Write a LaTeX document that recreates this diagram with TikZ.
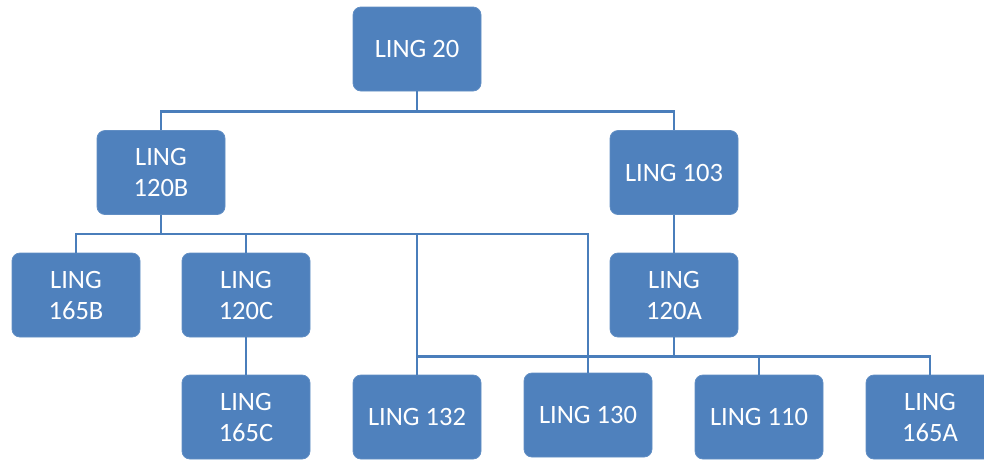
\documentclass[tikz,border=0pt]{standalone}
\usepackage{fontspec}
\setmainfont{Carlito}
\definecolor{boxblue}{HTML}{4F81BD}
\definecolor{lineblue}{HTML}{4A7EBB}
\begin{document}
\begin{tikzpicture}[x=1pt,y=-1pt,
  course/.style={draw=boxblue!90!white, line width=0.8pt, fill=boxblue, rounded corners=8pt,
    minimum width=128pt, minimum height=84pt, inner sep=0pt, text=white, align=center,
    font=\fontsize{26.5}{31}\selectfont},
  conn/.style={draw=lineblue, line width=2.4pt}]
\useasboundingbox (0,0) rectangle (984,459);
\begin{scope}
\clip (0,0) rectangle (984,459);
\node[course] (l20)   at (417,49)    {LING 20};
\node[course] (l120b) at (161,172.5) {LING\\120B};
\node[course] (l103)  at (674,172.5) {LING 103};
\node[course] (l165b) at (76,295)    {LING\\165B};
\node[course] (l120c) at (246,295)   {LING\\120C};
\node[course] (l120a) at (674,295)   {LING\\120A};
\node[course] (l165c) at (246,417)   {LING\\165C};
\node[course] (l132)  at (417,417)   {LING 132};
\node[course] (l130)  at (588,415)   {LING 130};
\node[course] (l110)  at (759,417)   {LING 110};
\node[course] (l165a) at (930,417)   {LING\\165A};

\draw[conn] (l20.south) -- ++(0,20) coordinate (j1);
\draw[conn] (l120b.north) |- (j1) -| (l103.north);

\draw[conn] (l120b.south) -- ++(0,19) coordinate (j2);
\draw[conn] (l165b.north) |- (j2) -| (l130.north);
\draw[conn] (l120c.north) -- (l120c.north |- j2);
\draw[conn] (l132.north) -- (l132.north |- j2);

\draw[conn] (l103.south) -- (l120a.north);
\draw[conn] (l120c.south) -- (l165c.north);

\draw[conn] (l120a.south) -- ++(0,19) coordinate (j3);
\draw[conn] (l132.north) |- (j3) -| (l165a.north);
\draw[conn] (l110.north) -- (l110.north |- j3);
\end{scope}
\end{tikzpicture}
\end{document}
